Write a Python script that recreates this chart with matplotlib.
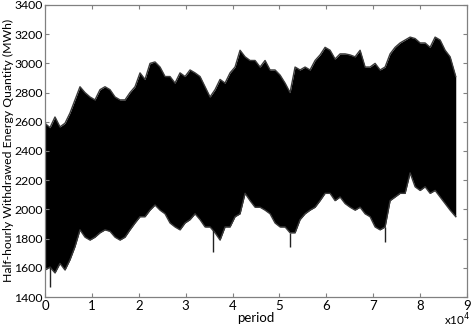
import matplotlib
matplotlib.use("Agg")
import matplotlib.pyplot as plt
import numpy as np

plt.rcParams['font.family'] = ['Lato', 'DejaVu Sans']

# period positions (half-hour index) of envelope samples
period = [0, 1067, 2133, 3200, 4267, 5333, 6400, 7467, 8533, 9600,
          10667, 11733, 12800, 13867, 14933, 16000, 17067, 18133, 19200, 20267,
          21333, 22400, 23467, 24533, 25600, 26667, 27733, 28800, 29867, 30933,
          32000, 33067, 34133, 35200, 36267, 37333, 38400, 39467, 40533, 41600,
          42667, 43733, 44800, 45867, 46933, 48000, 49067, 50133, 51200, 52267,
          53333, 54400, 55467, 56533, 57600, 58667, 59733, 60800, 61867, 62933,
          64000, 65067, 66133, 67200, 68267, 69333, 70400, 71467, 72533, 73600,
          74667, 75733, 76800, 77867, 78933, 80000, 81067, 82133, 83200, 84267,
          85333, 86400, 87600]

# upper envelope of the half-hourly series (MWh)
upper = [2590, 2560, 2633, 2565, 2590, 2660, 2750, 2840, 2800, 2770,
         2750, 2820, 2840, 2820, 2770, 2750, 2750, 2800, 2840, 2935,
         2890, 3000, 3010, 2975, 2910, 2910, 2865, 2935, 2910, 2955,
         2935, 2910, 2840, 2770, 2820, 2890, 2865, 2935, 2975, 3090,
         3045, 3020, 3020, 2975, 3020, 2955, 2955, 2920, 2865, 2800,
         2975, 2955, 2975, 2955, 3020, 3058, 3110, 3090, 3030, 3065,
         3065, 3058, 3045, 3090, 2975, 2975, 3000, 2955, 2975, 3065,
         3110, 3140, 3160, 3180, 3170, 3140, 3140, 3110, 3180, 3160,
         3090, 3045, 2910]

# lower envelope of the half-hourly series (MWh)
lower = [1585, 1605, 1565, 1630, 1585, 1655, 1745, 1860, 1810, 1790,
         1810, 1840, 1860, 1850, 1810, 1790, 1810, 1860, 1907, 1950,
         1950, 1995, 2030, 1995, 1970, 1907, 1880, 1860, 1907, 1930,
         1970, 1930, 1880, 1880, 1840, 1790, 1880, 1880, 1950, 1970,
         2110, 2060, 2015, 2015, 1995, 1970, 1907, 1880, 1880, 1840,
         1840, 1930, 1970, 1995, 2015, 2060, 2110, 2110, 2060, 2085,
         2040, 2015, 1995, 2015, 1970, 1950, 1880, 1860, 1880, 2060,
         2085, 2110, 2110, 2250, 2155, 2130, 2155, 2110, 2130, 2085,
         2040, 1995, 1950]

# isolated downward spikes below the lower envelope (period, value)
spike_period = [1067, 35800, 52267, 72533]
spike_value = [1470, 1710, 1745, 1775]

xticks = [0, 10000, 20000, 30000, 40000, 50000, 60000, 70000, 80000, 90000]
xticklabels = ['0', '1', '2', '3', '4', '5', '6', '7', '8', '9']
yticks = [1400, 1600, 1800, 2000, 2200, 2400, 2600, 2800, 3000, 3200, 3400]

fig = plt.figure(figsize=(4.72, 3.28), dpi=100)
ax = fig.add_axes([0.0953, 0.0945, 0.8941, 0.8903])

ax.fill_between(period, lower, upper, color='black', lw=0)
ax.plot(period, upper, color='#3a3a3a', lw=1.0)
ax.plot(period, lower, color='#3a3a3a', lw=1.0)
low_at = np.interp(spike_period, period, lower)
ax.vlines(spike_period, spike_value, low_at, color='#222222', lw=1.0)

ax.set_xlim(0, 90000)
ax.set_ylim(1400, 3400)
ax.set_xticks(xticks)
ax.set_xticklabels(xticklabels)
ax.set_yticks(yticks)
ax.tick_params(direction='in', top=True, right=True, length=3, width=0.8,
               color='#808080', labelsize=9.5, pad=2)
ax.tick_params(axis='y', labelsize=8.8, pad=1.5)
for s in ax.spines.values():
    s.set_color('#808080')
    s.set_linewidth(0.9)

ax.set_xlabel('period', fontsize=9.5, labelpad=0)
fig.text(8.5 / 472, 0.54, 'Half-hourly Withdrawed Energy Quantity (MWh)',
         fontsize=8.8, rotation=90, ha='center', va='center')
fig.text(0.968, 0.0, 'x10$^4$', fontsize=8.5, ha='center', va='bottom')

fig.savefig('out.png', dpi=100)
